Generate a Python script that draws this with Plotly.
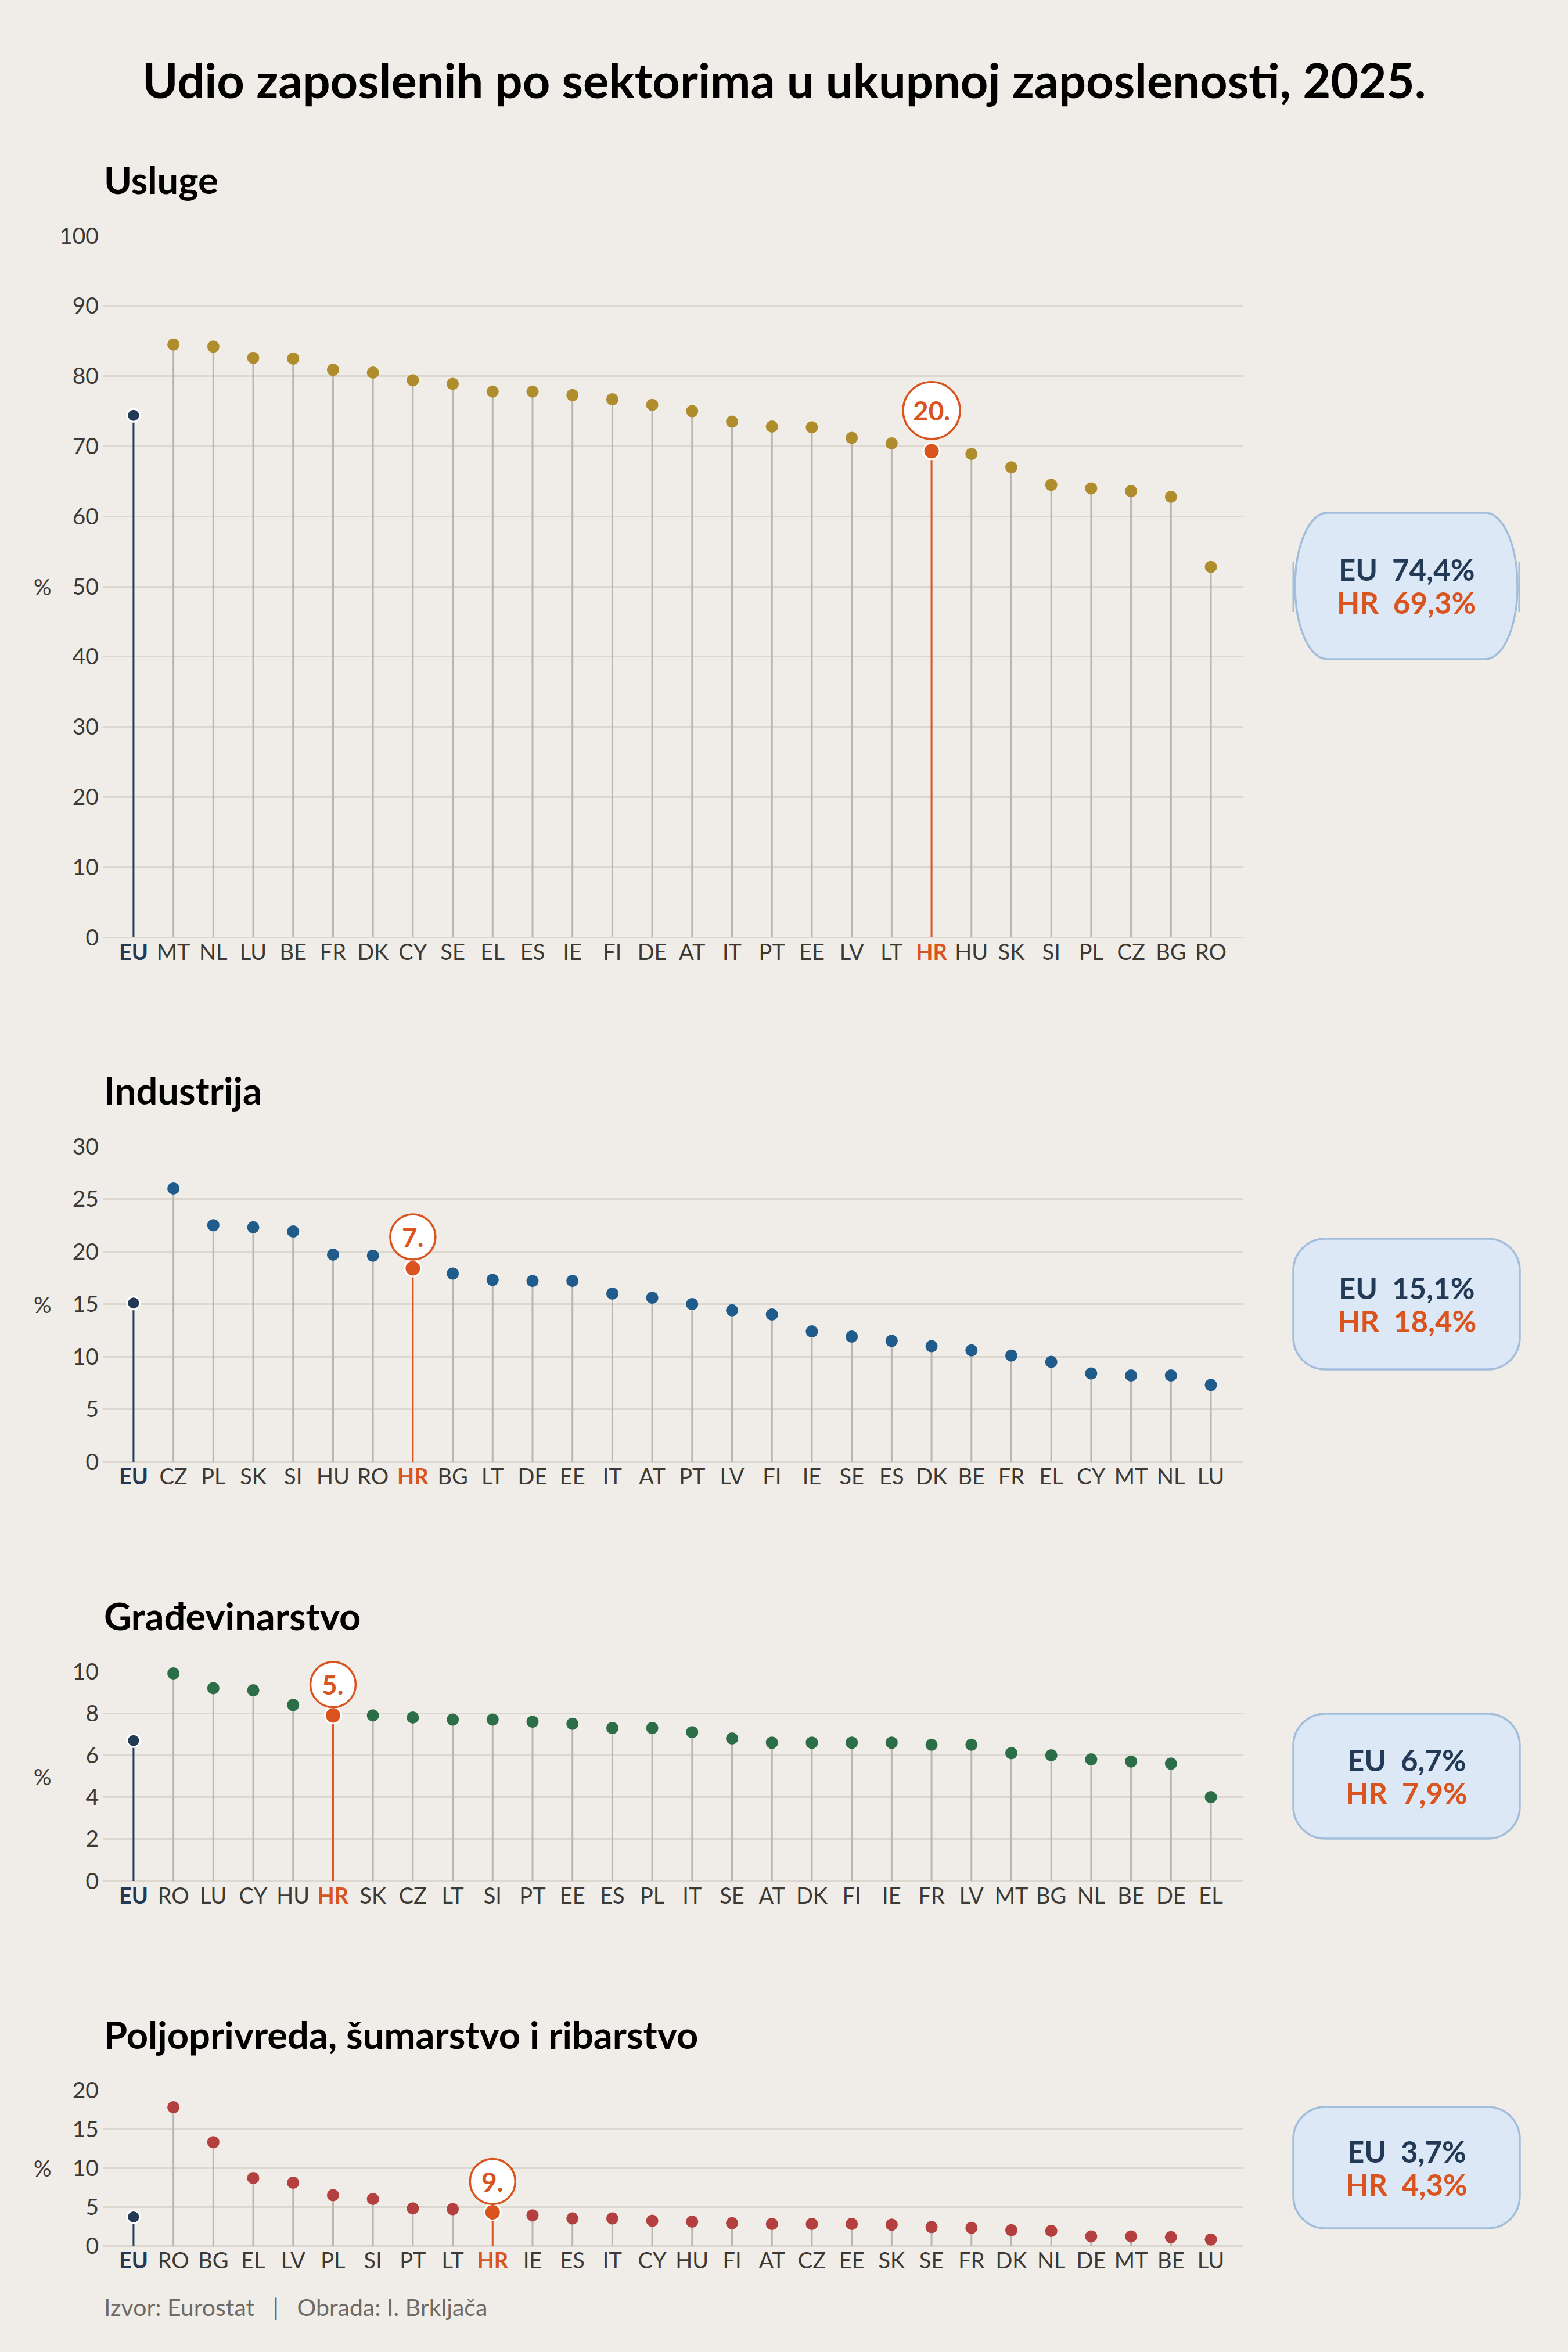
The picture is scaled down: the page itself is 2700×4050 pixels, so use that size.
import plotly.graph_objects as go

# ---------------- DATA ----------------
title_text = "Udio zaposlenih po sektorima u ukupnoj zaposlenos\u200cti, 2025."
source_text = "Izvor: Eurostat \u00a0\u00a0|\u00a0\u00a0 Obrada: I. Brkljača"

usluge_countries = ["EU", "MT", "NL", "LU", "BE", "FR", "DK", "CY", "SE", "EL", "ES", "IE", "FI", "DE",
                    "AT", "IT", "PT", "EE", "LV", "LT", "HR", "HU", "SK", "SI", "PL", "CZ", "BG", "RO"]
usluge_values = [74.4, 84.5, 84.2, 82.6, 82.5, 80.9, 80.5, 79.4, 78.9, 77.8, 77.8, 77.3, 76.7, 75.9,
                 75.0, 73.5, 72.8, 72.7, 71.2, 70.4, 69.3, 68.9, 67.0, 64.5, 64.0, 63.6, 62.8, 52.8]
usluge_ticks = [0, 10, 20, 30, 40, 50, 60, 70, 80, 90, 100]

industrija_countries = ["EU", "CZ", "PL", "SK", "SI", "HU", "RO", "HR", "BG", "LT", "DE", "EE", "IT", "AT",
                        "PT", "LV", "FI", "IE", "SE", "ES", "DK", "BE", "FR", "EL", "CY", "MT", "NL", "LU"]
industrija_values = [15.1, 26.0, 22.5, 22.3, 21.9, 19.7, 19.6, 18.4, 17.9, 17.3, 17.2, 17.2, 16.0, 15.6,
                     15.0, 14.4, 14.0, 12.4, 11.9, 11.5, 11.0, 10.6, 10.1, 9.5, 8.4, 8.2, 8.2, 7.3]
industrija_ticks = [0, 5, 10, 15, 20, 25, 30]

gradjevinarstvo_countries = ["EU", "RO", "LU", "CY", "HU", "HR", "SK", "CZ", "LT", "SI", "PT", "EE", "ES", "PL",
                             "IT", "SE", "AT", "DK", "FI", "IE", "FR", "LV", "MT", "BG", "NL", "BE", "DE", "EL"]
gradjevinarstvo_values = [6.7, 9.9, 9.2, 9.1, 8.4, 7.9, 7.9, 7.8, 7.7, 7.7, 7.6, 7.5, 7.3, 7.3,
                          7.1, 6.8, 6.6, 6.6, 6.6, 6.6, 6.5, 6.5, 6.1, 6.0, 5.8, 5.7, 5.6, 4.0]
gradjevinarstvo_ticks = [0, 2, 4, 6, 8, 10]

poljoprivreda_countries = ["EU", "RO", "BG", "EL", "LV", "PL", "SI", "PT", "LT", "HR", "IE", "ES", "IT", "CY",
                           "HU", "FI", "AT", "CZ", "EE", "SK", "SE", "FR", "DK", "NL", "DE", "MT", "BE", "LU"]
poljoprivreda_values = [3.7, 17.8, 13.3, 8.7, 8.1, 6.5, 6.0, 4.8, 4.7, 4.3, 3.9, 3.5, 3.5, 3.2,
                        3.1, 2.9, 2.8, 2.8, 2.8, 2.7, 2.4, 2.3, 2.0, 1.9, 1.2, 1.2, 1.1, 0.8]
poljoprivreda_ticks = [0, 5, 10, 15, 20]

sector_names = ["Usluge", "Industrija", "Građevinarstvo", "Poljoprivreda, šumarstvo i ribarstvo"]

# ---------------- STYLE ----------------
W, H = 2700, 4050
BG = "#f0ede8"
GRID = "#dcd8d0"
STEM = "#b9b6b0"
EU_C = "#233a56"
HR_C = "#d9541f"
TICK_C = "#3d3a36"
BOX_FILL = "#dce8f5"
BOX_LINE = "#a3bedb"
FONT = "Lato"
dot_colors = ["#b08d2c", "#1f5c8b", "#2b6e48", "#b3403e"]

# pixel layout per panel: top gridline, zero line, subtitle cap-centre, box, badge
panels_px = [
    dict(top=406, bottom=1614, sub=309, box=(2230, 883, 2613, 1135), stadium=True, badge_r=49, badge_off=70),
    dict(top=1974, bottom=2517, sub=1877, box=(2227, 2133, 2617, 2358), stadium=False, badge_r=39, badge_off=54),
    dict(top=2878, bottom=3239, sub=2782, box=(2227, 2951, 2617, 3166), stadium=False, badge_r=39, badge_off=53),
    dict(top=3599, bottom=3867, sub=3503, box=(2227, 3628, 2617, 3837), stadium=False, badge_r=39, badge_off=53),
]
X_LEFT, X_RIGHT = 177, 2140
X_RANGE = [-0.77, 27.8]


def fx(x):
    return x / W


def fy(y):
    return 1 - y / H


def fmt(v):
    return f"{v:.1f}".replace(".", ",")


datasets = [
    (usluge_countries, usluge_values, usluge_ticks),
    (industrija_countries, industrija_values, industrija_ticks),
    (gradjevinarstvo_countries, gradjevinarstvo_values, gradjevinarstvo_ticks),
    (poljoprivreda_countries, poljoprivreda_values, poljoprivreda_ticks),
]

fig = go.Figure()
shapes = []
annotations = []


def rounded_path(L, T, R, B, rx, ry):
    k = 0.5523
    pts = [
        f"M {fx(L + rx)},{fy(T)}",
        f"L {fx(R - rx)},{fy(T)}",
        f"C {fx(R - rx + k * rx)},{fy(T)} {fx(R)},{fy(T + ry - k * ry)} {fx(R)},{fy(T + ry)}",
        f"L {fx(R)},{fy(B - ry)}",
        f"C {fx(R)},{fy(B - ry + k * ry)} {fx(R - rx + k * rx)},{fy(B)} {fx(R - rx)},{fy(B)}",
        f"L {fx(L + rx)},{fy(B)}",
        f"C {fx(L + rx - k * rx)},{fy(B)} {fx(L)},{fy(B - ry + k * ry)} {fx(L)},{fy(B - ry)}",
        f"L {fx(L)},{fy(T + ry)}",
        f"C {fx(L)},{fy(T + ry - k * ry)} {fx(L + rx - k * rx)},{fy(T)} {fx(L + rx)},{fy(T)}",
        "Z",
    ]
    return " ".join(pts)


for p, ((countries, values, ticks), geo, color, name) in enumerate(zip(datasets, panels_px, dot_colors, sector_names)):
    n = p + 1
    xa = "x" if n == 1 else f"x{n}"
    ya = "y" if n == 1 else f"y{n}"
    idx = list(range(len(countries)))
    eu_i = countries.index("EU")
    hr_i = countries.index("HR")

    # stems
    sx, sy = [], []
    for i, v in zip(idx, values):
        if i in (eu_i, hr_i):
            continue
        sx += [i, i, None]
        sy += [0, v, None]
    fig.add_trace(go.Scatter(x=sx, y=sy, mode="lines", line=dict(color=STEM, width=3),
                             xaxis=xa, yaxis=ya, hoverinfo="skip", showlegend=False))
    fig.add_trace(go.Scatter(x=[eu_i, eu_i], y=[0, values[eu_i]], mode="lines",
                             line=dict(color=EU_C, width=3), xaxis=xa, yaxis=ya,
                             hoverinfo="skip", showlegend=False))
    fig.add_trace(go.Scatter(x=[hr_i, hr_i], y=[0, values[hr_i]], mode="lines",
                             line=dict(color=HR_C, width=3), xaxis=xa, yaxis=ya,
                             hoverinfo="skip", showlegend=False))
    # dots
    ox = [i for i in idx if i not in (eu_i, hr_i)]
    oy = [values[i] for i in ox]
    fig.add_trace(go.Scatter(x=ox, y=oy, mode="markers", marker=dict(color=color, size=21),
                             xaxis=xa, yaxis=ya, cliponaxis=False, showlegend=False))
    fig.add_trace(go.Scatter(x=[eu_i], y=[values[eu_i]], mode="markers",
                             marker=dict(color=EU_C, size=22, line=dict(color="white", width=3)),
                             xaxis=xa, yaxis=ya, cliponaxis=False, showlegend=False))
    fig.add_trace(go.Scatter(x=[hr_i], y=[values[hr_i]], mode="markers",
                             marker=dict(color=HR_C, size=28, line=dict(color="white", width=3)),
                             xaxis=xa, yaxis=ya, cliponaxis=False, showlegend=False))

    # rank badge above HR (offset converted from pixels to data units)
    r = geo["badge_r"]
    off = geo["badge_off"]
    units_per_px = (ticks[-1] - ticks[0]) / (geo["bottom"] - geo["top"])
    fig.add_trace(go.Scatter(x=[hr_i], y=[values[hr_i] + off * units_per_px], mode="markers",
                             marker=dict(color="white", size=2 * r, line=dict(color=HR_C, width=3.5)),
                             xaxis=xa, yaxis=ya, cliponaxis=False, showlegend=False, hoverinfo="skip"))
    annotations.append(dict(x=hr_i, y=values[hr_i], xref=xa, yref=ya, yshift=off, showarrow=False,
                            text=f"{hr_i}.", xanchor="center", yanchor="middle",
                            font=dict(family=FONT, size=46, color=HR_C, weight=700)))

    # axes
    ticktext = []
    for c in countries:
        if c == "EU":
            ticktext.append(f"<b><span style='color:{EU_C}'>{c}</span></b>")
        elif c == "HR":
            ticktext.append(f"<b><span style='color:{HR_C}'>{c}</span></b>")
        else:
            ticktext.append(c)
    dom_y = [fy(geo["bottom"]), fy(geo["top"])]
    fig.layout[("xaxis" if n == 1 else f"xaxis{n}")] = dict(
        domain=[fx(X_LEFT), fx(X_RIGHT)], anchor=ya, range=X_RANGE, automargin=False,
        tickmode="array", tickvals=idx, ticktext=ticktext, showgrid=False, zeroline=False,
        showline=False, ticks="", tickfont=dict(family=FONT, size=38, color=TICK_C), fixedrange=True)
    fig.layout[("yaxis" if n == 1 else f"yaxis{n}")] = dict(
        domain=dom_y, anchor=xa, range=[ticks[0], ticks[-1]], tickmode="array", tickvals=ticks,
        automargin=False,
        showgrid=True, gridcolor=GRID, gridwidth=2.5, zeroline=True, zerolinecolor=GRID,
        zerolinewidth=2.5, showline=False, ticks="", ticklabelstandoff=6,
        tickfont=dict(family=FONT, size=39, color=TICK_C), fixedrange=True)

    # subtitle
    annotations.append(dict(x=fx(X_LEFT), y=fy(geo["sub"]), xref="paper", yref="paper",
                            xanchor="left", yanchor="middle", showarrow=False, text=name,
                            font=dict(family=FONT, size=65, color="#000000", weight=700)))
    # % label
    annotations.append(dict(x=fx(73), y=fy((geo["top"] + geo["bottom"]) / 2), xref="paper", yref="paper",
                            xanchor="center", yanchor="middle", showarrow=False, text="%",
                            font=dict(family=FONT, size=38, color=TICK_C)))

    # summary box
    L, T, R, B = geo["box"]
    if geo["stadium"]:
        path = rounded_path(L, T, R, B, 55, (B - T) / 2)
        for xs in (L - 3, R + 3):
            shapes.append(dict(type="line", xref="paper", yref="paper", x0=fx(xs), x1=fx(xs),
                               y0=fy(967), y1=fy(1053), line=dict(color=BOX_LINE, width=3)))
    else:
        path = rounded_path(L, T, R, B, 55, 55)
    shapes.append(dict(type="path", xref="paper", yref="paper", path=path, fillcolor=BOX_FILL,
                       line=dict(color=BOX_LINE, width=3.5), layer="above"))
    cy = (T + B) / 2
    cx = (L + R) / 2
    annotations.append(dict(x=fx(cx), y=fy(cy - 28.5), xref="paper", yref="paper", showarrow=False,
                            xanchor="center", yanchor="middle",
                            text=f"EU\u00a0\u00a0{fmt(values[eu_i])}%",
                            font=dict(family=FONT, size=51, color=EU_C, weight=700)))
    annotations.append(dict(x=fx(cx), y=fy(cy + 28.5), xref="paper", yref="paper", showarrow=False,
                            xanchor="center", yanchor="middle",
                            text=f"HR\u00a0\u00a0{fmt(values[hr_i])}%",
                            font=dict(family=FONT, size=51, color=HR_C, weight=700)))

# title and source
annotations.append(dict(x=0.5, y=fy(137), xref="paper", yref="paper", xanchor="center", yanchor="middle",
                        showarrow=False, text=title_text,
                        font=dict(family=FONT, size=83, color="#000000", weight=700)))
annotations.append(dict(x=fx(177), y=fy(3972), xref="paper", yref="paper", xanchor="left", yanchor="middle",
                        showarrow=False, text=source_text,
                        font=dict(family=FONT, size=41, color="#6e6a64")))

fig.update_layout(width=W, height=H, autosize=False,
                  margin=dict(l=0, r=0, t=0, b=0, pad=0, autoexpand=False),
                  paper_bgcolor=BG, plot_bgcolor=BG, showlegend=False,
                  shapes=shapes, annotations=annotations, font=dict(family=FONT))

fig.write_html("out.html", config={"displayModeBar": False},
               post_script="document.body.style.margin='0';document.body.style.background='" + BG + "';")
